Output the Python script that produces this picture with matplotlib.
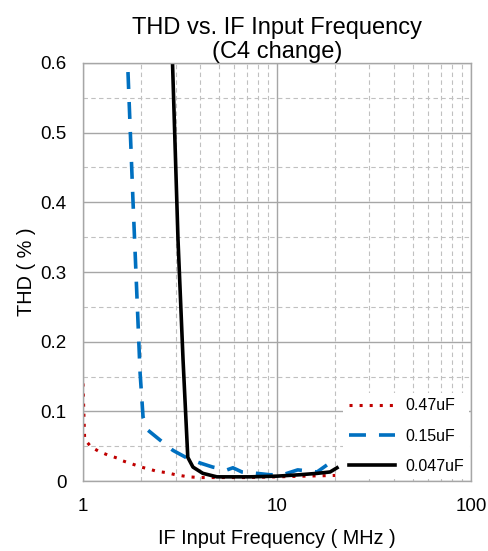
import matplotlib
matplotlib.use("Agg")
import matplotlib.pyplot as plt
from matplotlib.ticker import FixedLocator, NullFormatter, FuncFormatter

plt.rcParams['font.family'] = ['Liberation Sans', 'DejaVu Sans']

# 0.47uF
f_047 = [1.0, 1.02, 1.1, 1.2, 1.35, 1.5, 1.6, 1.77, 2.0, 2.2, 2.4, 2.7, 3.0, 3.5, 4.0, 5.0, 7.0, 10.0, 14.0, 20.0]
thd_047 = [0.14, 0.06, 0.049, 0.043, 0.037, 0.033, 0.029, 0.025, 0.020, 0.017, 0.014, 0.012, 0.009, 0.006, 0.005, 0.005, 0.005, 0.006, 0.007, 0.008]
# 0.15uF
f_015 = [1.706, 1.81, 1.97, 2.04, 2.16, 2.49, 2.91, 3.44, 4.0, 4.67, 5.53, 5.93, 6.6, 7.87, 9.2, 10.7, 12.8, 16.1, 18.1]
thd_015 = [0.587, 0.403, 0.155, 0.092, 0.073, 0.059, 0.044, 0.033, 0.026, 0.020, 0.016, 0.019, 0.013, 0.011, 0.009, 0.009, 0.016, 0.013, 0.023]
# 0.047uF
f_0047 = [2.88, 3.09, 3.28, 3.47, 3.69, 4.15, 4.9, 5.93, 7.25, 10.0, 13.1, 16.1, 18.8, 20.4]
thd_0047 = [0.62, 0.346, 0.174, 0.034, 0.020, 0.011, 0.006, 0.006, 0.006, 0.007, 0.009, 0.011, 0.013, 0.019]

labels = ['0.47uF', '0.15uF', '0.047uF']

fig = plt.figure(figsize=(4.89, 5.51), dpi=100)
ax = fig.add_axes([0.1697, 0.127, 0.7933, 0.7587])

ax.set_xscale('log')
ax.set_xlim(1, 100)
ax.set_ylim(0, 0.6)

ax.xaxis.set_major_locator(FixedLocator([1, 10, 100]))
ax.xaxis.set_minor_locator(FixedLocator([m * d for d in (1, 10) for m in range(2, 10)]))
ax.xaxis.set_major_formatter(FuncFormatter(lambda v, p: f"{v:g}"))
ax.xaxis.set_minor_formatter(NullFormatter())
ax.yaxis.set_major_locator(FixedLocator([0, 0.1, 0.2, 0.3, 0.4, 0.5, 0.6]))
ax.yaxis.set_minor_locator(FixedLocator([0.05, 0.15, 0.25, 0.35, 0.45, 0.55]))
ax.yaxis.set_major_formatter(FuncFormatter(lambda v, p: "0" if v == 0 else f"{v:.1f}"))

ax.grid(True, which='major', color='#a6a6a6', linewidth=1.0, linestyle='-')
ax.grid(True, which='minor', color='#c0c0c0', linewidth=0.8, linestyle=(0, (4, 3)))
ax.set_axisbelow(True)
for s in ax.spines.values():
    s.set_color('#a6a6a6')
    s.set_linewidth(1.0)
ax.tick_params(which='both', length=0, labelsize=13.5, colors='black')
ax.tick_params(axis='y', pad=12)
ax.tick_params(axis='x', pad=12)

ax.plot(f_047, thd_047, color='#c00000', linestyle=(0, (1, 2.3)), linewidth=2.2, label=labels[0])
ax.plot(f_015, thd_015, color='#0070c0', linestyle=(0, (4.7, 3.6)), linewidth=2.6, label=labels[1])
ax.plot(f_0047, thd_0047, color='black', linestyle='-', linewidth=2.6, label=labels[2])

leg = ax.legend(loc='lower right', fontsize=11.5, frameon=True, framealpha=1, edgecolor='none',
                facecolor='white', handlelength=2.9, borderaxespad=0.1, labelspacing=0.95,
                handletextpad=0.6, borderpad=0.35, fancybox=False)

ax.set_title('THD vs. IF Input Frequency\n(C4 change)', fontsize=17, pad=1, linespacing=1.1)
ax.set_xlabel('IF Input Frequency ( MHz )', fontsize=14.3, labelpad=10)
ax.set_ylabel('THD ( % )', fontsize=14.3, labelpad=3)

fig.savefig('out.png', dpi=100, facecolor='white')
